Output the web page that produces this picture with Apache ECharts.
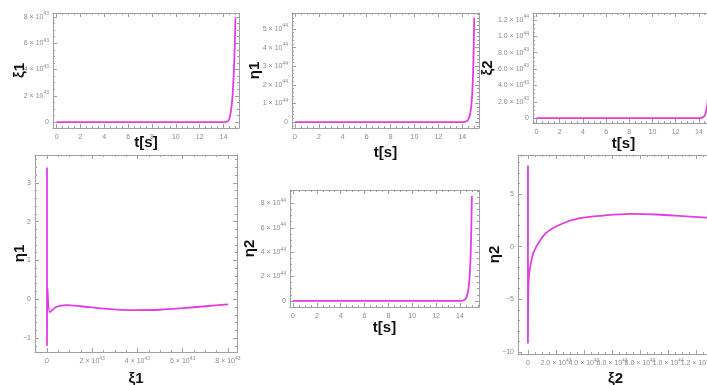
<!DOCTYPE html>
<html><head><meta charset="utf-8">
<script src="https://cdn.jsdelivr.net/npm/echarts@6/dist/echarts.min.js"></script>
<style>html,body{margin:0;padding:0;background:#fff}#c{width:707px;height:385px}</style>
</head><body><div id="c"></div>
<script>
// ---------- data ----------
const tTime   = [0, 2, 4, 6, 8, 10, 12, 13, 14, 14.2, 14.4, 14.5, 14.6, 14.7, 14.75, 14.8, 14.85, 14.9, 14.95, 15];
const xi1Time = [0, 0, 0, 0, 0, 0, 0, 0, 0, 0.02e43, 0.1e43, 0.3e43, 0.7e43, 1.4e43, 1.9e43, 2.6e43, 3.5e43, 4.6e43, 6.0e43, 7.9e43];
const eta1Time= [0, 0, 0, 0, 0, 0, 0, 0, 0, 0.01e44, 0.06e44, 0.13e44, 0.3e44, 0.6e44, 0.85e44, 1.2e44, 1.75e44, 2.5e44, 3.8e44, 5.6e44];
const xi2Time = [0, 0, 0, 0, 0, 0, 0, 0, 0, 0.002e44, 0.015e44, 0.03e44, 0.07e44, 0.14e44, 0.2e44, 0.28e44, 0.42e44, 0.6e44, 0.88e44, 1.28e44];
const eta2Time= [0, 0, 0, 0, 0, 0, 0, 0, 0, 0.015e44, 0.09e44, 0.2e44, 0.45e44, 0.9e44, 1.3e44, 1.8e44, 2.6e44, 3.8e44, 5.7e44, 8.6e44];

const xi1Phase  = [0, 0, 0.02e43, 0.13e43, 0.4e43, 0.87e43, 1.5e43, 2.5e43, 3.8e43, 5.0e43, 6.0e43, 7.0e43, 8.0e43];
const eta1Phase = [3.4, -1.2, 0.3, -0.33, -0.2, -0.15, -0.18, -0.24, -0.28, -0.27, -0.23, -0.18, -0.13];
const xi2Phase  = [0, 0, 0.05e43, 0.3e43, 0.6e43, 1.3e43, 2.3e43, 3.7e43, 5.4e43, 7.3e43, 9.2e43, 11.0e43, 12.7e43, 13.5e43];
const eta2Phase = [7.7, -9.2, -3.2, -1.0, 0.0, 1.3, 2.1, 2.7, 2.95, 3.1, 3.05, 2.9, 2.75, 2.7];

// ---------- tick values and labels ----------
const tTicks  = [0, 2, 4, 6, 8, 10, 12, 14];
const tLabels = ['0', '2', '4', '6', '8', '10', '12', '14'];
const xi1Ticks  = [0, 2e43, 4e43, 6e43, 8e43];
const xi1Labels = ['0', '2 × 10^43', '4 × 10^43', '6 × 10^43', '8 × 10^43'];
const eta1Ticks  = [0, 1e44, 2e44, 3e44, 4e44, 5e44];
const eta1Labels = ['0', '1 × 10^44', '2 × 10^44', '3 × 10^44', '4 × 10^44', '5 × 10^44'];
const xi2Ticks  = [0, 2e43, 4e43, 6e43, 8e43, 1e44, 1.2e44];
const xi2Labels = ['0', '2.0 × 10^43', '4.0 × 10^43', '6.0 × 10^43', '8.0 × 10^43', '1.0 × 10^44', '1.2 × 10^44'];
const eta2Ticks  = [0, 2e44, 4e44, 6e44, 8e44];
const eta2Labels = ['0', '2 × 10^44', '4 × 10^44', '6 × 10^44', '8 × 10^44'];
const eta1PTicks  = [-1, 0, 1, 2, 3];
const eta1PLabels = ['−1', '0', '1', '2', '3'];
const eta2PTicks  = [-10, -5, 0, 5];
const eta2PLabels = ['−10', '−5', '0', '5'];

// ---------- styling helpers ----------
const FRAME = '#a0a0a0', LBL = '#8a8a8a', LINE = '#e03ee0';
const FONT = 'Liberation Sans';
const rich = {
  b: {fontSize: 7, color: LBL, lineHeight: 11, fontFamily: FONT},
  s: {fontSize: 5, color: LBL, lineHeight: 6, verticalAlign: 'top', fontFamily: FONT}
};
function fmt(s) {
  if (s === undefined) return '';
  const i = s.indexOf('^');
  return i < 0 ? '{b|' + s + '}' : '{b|' + s.slice(0, i) + '}{s|' + s.slice(i + 1) + '}';
}
function lookup(ticks, labels, v) {
  const span = Math.max.apply(null, ticks.map(Math.abs)) || 1;
  let best = -1, bd = Infinity;
  ticks.forEach((t, i) => { const d = Math.abs(t - v); if (d < bd) { bd = d; best = i; } });
  return bd <= span * 1e-6 ? labels[best] : undefined;
}
function minorsOf(range, step, majors) {
  const out = [];
  const start = Math.ceil(range[0] / step);
  const end = Math.floor(range[1] / step);
  for (let k = start; k <= end; k++) {
    const v = k * step;
    if (!majors.some(m => Math.abs(m - v) < step * 1e-6)) out.push(v);
  }
  return out;
}
const nameStyle = {color: '#111', fontSize: 15, fontWeight: 'bold', fontFamily: FONT};

const grids = [], xAxes = [], yAxes = [], series = [];
function addPanel(p) {
  const gA = grids.length, gB = gA + 1;
  const rect = {left: p.left, top: p.top, width: p.width, height: p.height, containLabel: false, outerBoundsMode: 'none'};
  grids.push(Object.assign({}, rect), Object.assign({}, rect));
  const xMinor = minorsOf(p.xRange, p.xStep, p.xTicks);
  const yMinor = minorsOf(p.yRange, p.yStep, p.yTicks);
  const even = a => a.filter((_, i) => i % 2 === 0), odd = a => a.filter((_, i) => i % 2 === 1);
  const ax = (range, grid, pos, lineShow, ticks, len) => ({
    type: 'value', gridIndex: grid, position: pos, min: range[0], max: range[1],
    splitLine: {show: false},
    axisLine: {show: lineShow, onZero: false, lineStyle: {color: FRAME, width: 1}},
    axisTick: {show: true, inside: true, length: len, customValues: ticks, lineStyle: {color: FRAME, width: 1}},
    axisLabel: {show: false}
  });
  const lab = (vals, ticks, labels) => ({show: true, customValues: vals, interval: 0, margin: 4, hideOverlap: false,
    showMinLabel: true, showMaxLabel: true, rich: rich, formatter: v => fmt(lookup(ticks, labels, v))});

  const xMain = xAxes.length;
  const xb = ax(p.xRange, gA, 'bottom', true, p.xTicks, 4);
  xb.axisLabel = lab(even(p.xTicks), p.xTicks, p.xLabels);
  xb.name = p.xName; xb.nameLocation = 'middle'; xb.nameGap = p.xGap; xb.nameTextStyle = nameStyle;
  xb.nameMoveOverlap = false;
  const xbm = ax(p.xRange, gB, 'bottom', false, xMinor, 2);
  xbm.axisLabel = lab(odd(p.xTicks), p.xTicks, p.xLabels);
  xAxes.push(xb, ax(p.xRange, gA, 'top', true, p.xTicks, 4), xbm, ax(p.xRange, gB, 'top', false, xMinor, 2));

  const yMain = yAxes.length;
  const yl = ax(p.yRange, gA, 'left', true, p.yTicks, 4);
  yl.axisLabel = lab(even(p.yTicks), p.yTicks, p.yLabels);
  yl.name = p.yName; yl.nameLocation = 'middle'; yl.nameGap = p.yGap; yl.nameTextStyle = nameStyle;
  yl.nameMoveOverlap = false;
  const ylm = ax(p.yRange, gB, 'left', false, yMinor, 2);
  ylm.axisLabel = lab(odd(p.yTicks), p.yTicks, p.yLabels);
  yAxes.push(yl, ax(p.yRange, gA, 'right', true, p.yTicks, 4), ylm, ax(p.yRange, gB, 'right', false, yMinor, 2));

  series.push({
    type: 'line', xAxisIndex: xMain, yAxisIndex: yMain,
    data: p.xs.map((x, i) => [x, p.ys[i]]),
    showSymbol: false, smooth: p.smooth, clip: true, silent: true,
    lineStyle: {color: LINE, width: 1.8}
  });
}

// top row: time series
addPanel({left: 53, top: 13, width: 186, height: 115, xRange: [-0.3, 15.3], yRange: [-0.45e43, 8.3e43],
  xTicks: tTicks, xLabels: tLabels, xStep: 0.5, yTicks: xi1Ticks, yLabels: xi1Labels, yStep: 0.5e43,
  xName: 't[s]', xGap: 7, yName: 'ξ1', yGap: 26, xs: tTime, ys: xi1Time, smooth: 0.2});
addPanel({left: 292, top: 13, width: 187, height: 115, xRange: [-0.25, 15.4], yRange: [-0.32e44, 5.86e44],
  xTicks: tTicks, xLabels: tLabels, xStep: 0.5, yTicks: eta1Ticks, yLabels: eta1Labels, yStep: 0.2e44,
  xName: 't[s]', xGap: 17, yName: 'η1', yGap: 30, xs: tTime, ys: eta1Time, smooth: 0.2});
addPanel({left: 533, top: 13, width: 181, height: 110, xRange: [-0.3, 15.3], yRange: [-0.6e43, 1.286e44],
  xTicks: tTicks, xLabels: tLabels, xStep: 0.5, yTicks: xi2Ticks, yLabels: xi2Labels, yStep: 0.5e43,
  xName: 't[s]', xGap: 13, yName: 'ξ2', yGap: 38, xs: tTime, ys: xi2Time, smooth: 0.2});
// bottom row
addPanel({left: 35, top: 155, width: 202, height: 197, xRange: [-0.53e43, 8.4e43], yRange: [-1.36, 3.72],
  xTicks: xi1Ticks, xLabels: xi1Labels, xStep: 0.5e43, yTicks: eta1PTicks, yLabels: eta1PLabels, yStep: 0.2,
  xName: 'ξ1', xGap: 19, yName: 'η1', yGap: 8, xs: xi1Phase, ys: eta1Phase, smooth: 0.3});
addPanel({left: 290, top: 190, width: 189, height: 117, xRange: [-0.25, 15.6], yRange: [-0.5e44, 9.1e44],
  xTicks: tTicks, xLabels: tLabels, xStep: 0.5, yTicks: eta2Ticks, yLabels: eta2Labels, yStep: 0.5e44,
  xName: 't[s]', xGap: 13, yName: 'η2', yGap: 33, xs: tTime, ys: eta2Time, smooth: 0.2});
addPanel({left: 518, top: 155, width: 195, height: 199, xRange: [-0.71e43, 13.2e43], yRange: [-10.2, 8.7],
  xTicks: xi2Ticks, xLabels: xi2Labels, xStep: 0.5e43, yTicks: eta2PTicks, yLabels: eta2PLabels, yStep: 1,
  xName: 'ξ2', xGap: 17, yName: 'η2', yGap: 16, xs: xi2Phase, ys: eta2Phase, smooth: 0.3});

const chart = echarts.init(document.getElementById('c'), null, {renderer: 'canvas'});
chart.setOption({
  animation: false,
  backgroundColor: '#ffffff',
  grid: grids, xAxis: xAxes, yAxis: yAxes, series: series
});
</script></body></html>
